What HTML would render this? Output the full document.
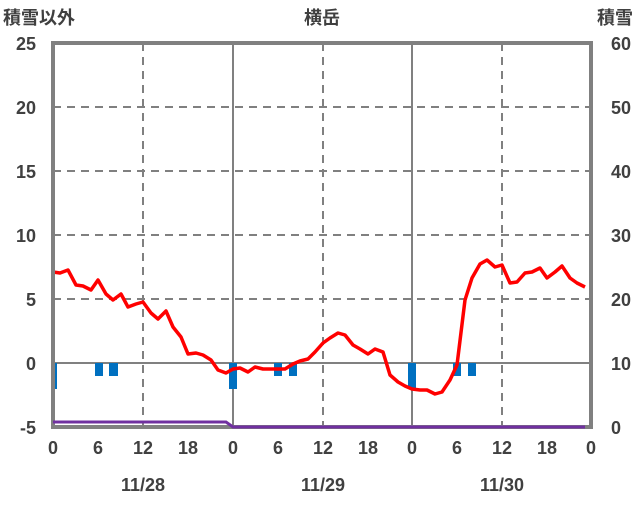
<!DOCTYPE html>
<html><head><meta charset="utf-8"><style>
body{margin:0;background:#fff}
text{font-family:"Liberation Sans","Noto Sans CJK JP",sans-serif;font-size:18px;fill:#404040}
</style></head><body>
<svg width="636" height="501" xmlns="http://www.w3.org/2000/svg">
<g stroke="#808080" stroke-width="2" stroke-dasharray="8,6">
<line x1="53" y1="107" x2="591" y2="107"/><line x1="53" y1="171" x2="591" y2="171"/>
<line x1="53" y1="235" x2="591" y2="235"/><line x1="53" y1="299" x2="591" y2="299"/>
<line x1="143" y1="43" x2="143" y2="427"/><line x1="323" y1="43" x2="323" y2="427"/><line x1="502" y1="43" x2="502" y2="427"/>
</g>
<g stroke="#808080" stroke-width="2">
<line x1="53" y1="363" x2="591" y2="363"/>
<line x1="233" y1="43" x2="233" y2="427"/><line x1="412" y1="43" x2="412" y2="427"/>
</g>
<g fill="#0070c0">
<rect x="52" y="363" width="5" height="26"/><rect x="95" y="363" width="8" height="13"/><rect x="109" y="363" width="9" height="13"/>
<rect x="229" y="363" width="8" height="26"/><rect x="274" y="363" width="8" height="13"/><rect x="289" y="363" width="8" height="13"/>
<rect x="408" y="363" width="8" height="26"/><rect x="453" y="363" width="8" height="13"/><rect x="468" y="363" width="8" height="13"/>
</g>
<polyline fill="none" stroke="#ff0000" stroke-width="3.5" stroke-linejoin="round" points="53,272 60,273 68,270 76,285 83,286 91,290 98,280 106,294 113,300 121,294 128,307 136,304 143,302 151,313 158,319 166,311 173,327 181,337 188,354 196,353 203,355 211,360 218,370 226,373 233,369 240,368 248,372 255,367 263,369 270,369 278,369 285,369 293,364 300,361 308,359 315,352 323,343 330,338 338,333 345,335 353,345 360,349 368,354 375,349 383,352 390,375 398,382 405,386 412,389 420,390 427,390 435,394 442,392 450,380 457,365 465,300 472,278 480,264 487,260 495,267 502,265 510,283 517,282 525,273 532,272 540,268 547,278 555,272 562,266 570,278 577,283 585,287"/>
<rect x="53" y="43" width="538" height="384" fill="none" stroke="#808080" stroke-width="4"/>
<polyline fill="none" stroke="#7030a0" stroke-width="3" points="53,422 226,422 233,427 585,427"/>
<g font-weight="bold">
<text x="3" y="24">積雪以外</text><text x="322" y="24" text-anchor="middle">横岳</text><text x="633" y="24" text-anchor="end">積雪</text>
<g text-anchor="end">
<text x="36" y="50">25</text><text x="36" y="114">20</text><text x="36" y="178">15</text><text x="36" y="242">10</text><text x="36" y="306">5</text><text x="36" y="370">0</text><text x="36" y="434">-5</text>
</g>
<g text-anchor="start">
<text x="611" y="50">60</text><text x="611" y="114">50</text><text x="611" y="178">40</text><text x="611" y="242">30</text><text x="611" y="306">20</text><text x="611" y="370">10</text><text x="611" y="434">0</text>
</g>
<g text-anchor="middle">
<text x="53" y="454">0</text><text x="98" y="454">6</text><text x="143" y="454">12</text><text x="188" y="454">18</text>
<text x="233" y="454">0</text><text x="278" y="454">6</text><text x="323" y="454">12</text><text x="368" y="454">18</text>
<text x="412" y="454">0</text><text x="457" y="454">6</text><text x="502" y="454">12</text><text x="547" y="454">18</text><text x="591" y="454">0</text>
<text x="143" y="491">11/28</text><text x="323" y="491">11/29</text><text x="502" y="491">11/30</text>
</g></g>
</svg>
</body></html>
